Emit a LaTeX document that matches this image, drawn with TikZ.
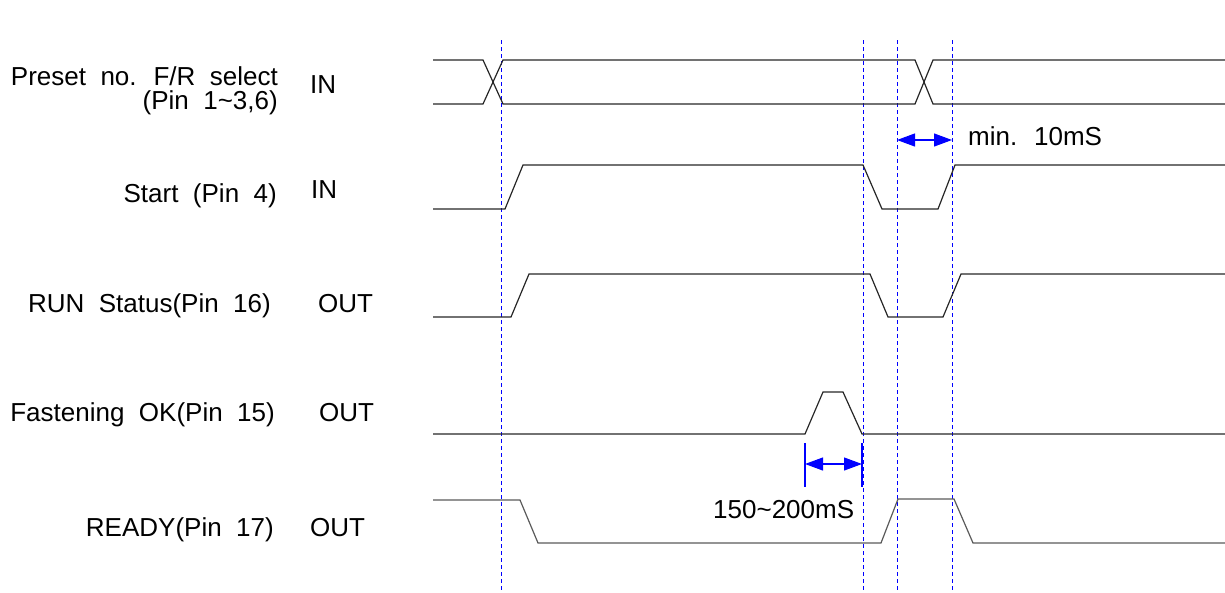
\documentclass[tikz,border=0pt]{standalone}
\usepackage{fontspec}
\setmainfont{Liberation Sans}
\usetikzlibrary{arrows.meta}
\definecolor{GuideBlue}{HTML}{0000FF}
\definecolor{WaveGray}{HTML}{5A5A5A}
\newcommand\sigfont{\fontsize{26}{24}\selectfont\spaceskip=0.556em\relax}

\tikzset{
  sig/.style={line width=1.2pt,black!85},
  guide/.style={GuideBlue,line width=1pt,dash pattern=on 4pt off 3pt},
  span/.style={GuideBlue,line width=1.1pt,
    {Triangle[length=18pt,width=13pt]}-{Triangle[length=18pt,width=13pt]}},
  lbl/.style={font=\sigfont,inner sep=0pt},
}

\begin{document}
\begin{tikzpicture}[x=1pt,y=-1pt]
  \useasboundingbox (0,0) rectangle (1225,592);

  % vertical timing marks
  \foreach \gx in {501,863,897,952}
    \draw[guide] (\gx,40) -- (\gx,592);

  % signal names and directions
  \node[lbl,anchor=base east,align=right] (preset) at (278,109) {Preset no. F/R select\\(Pin 1\textasciitilde 3,6)};
  \node[lbl,anchor=base west] (presetdir) at (310,93) {IN};
  \node[lbl,anchor=base east] (start) at (277,202) {Start (Pin 4)};
  \node[lbl,anchor=base west] (startdir) at (311,198) {IN};
  \node[lbl,anchor=base east] (run) at (271,312) {RUN Status(Pin 16)};
  \node[lbl,anchor=base west] (rundir) at (318,312) {OUT};
  \node[lbl,anchor=base east] (fasten) at (275,421) {Fastening OK(Pin 15)};
  \node[lbl,anchor=base west] (fastendir) at (319,421) {OUT};
  \node[lbl,anchor=base east] (ready) at (274,536) {READY(Pin 17)};
  \node[lbl,anchor=base west] (readydir) at (310,536) {OUT};

  % waveforms
  \draw[sig] (433,60) -- (483,60) -- (503,104) -- (915,104) -- (933,60) -- (1225,60);
  \draw[sig] (433,104) -- (483,104) -- (503,60) -- (915,60) -- (933,104) -- (1225,104);
  \draw[sig] (433,209) -- (505,209) -- (523,165) -- (863,165) -- (882,209)
    -- (938,209) -- (955,165) -- (1225,165);
  \draw[sig] (433,317) -- (511,317) -- (529,274) -- (870,274) -- (888,317)
    -- (943,317) -- (961,274) -- (1225,274);
  \draw[sig] (433,434) -- (805,434) -- (823,392) -- (843,392) -- (862,434) -- (1225,434);
  \draw[sig,WaveGray] (433,500) -- (520,500) -- (538,543) -- (881,543) -- (898,499)
    -- (954,499) -- (973,543) -- (1225,543);

  % min. 10mS
  \coordinate (tenL) at (897,140);
  \coordinate (tenR) at (952,140);
  \draw[span] (tenL) -- (tenR);
  \node[lbl,anchor=base west] (tenlbl) at (968,145) {min. 10mS};

  % 150~200mS
  \coordinate (okA) at (805,443);
  \coordinate (okB) at (862,443);
  \draw[GuideBlue,line width=1.2pt] (okA) -- ++(0,44);
  \draw[GuideBlue,line width=1.2pt] (okB) -- ++(0,44);
  \draw[span] ([yshift=-21pt]okA) -- ([yshift=-21pt]okB);
  \node[lbl,anchor=base west] (oklbl) at (713,518) {150\textasciitilde 200mS};
\end{tikzpicture}
\end{document}
